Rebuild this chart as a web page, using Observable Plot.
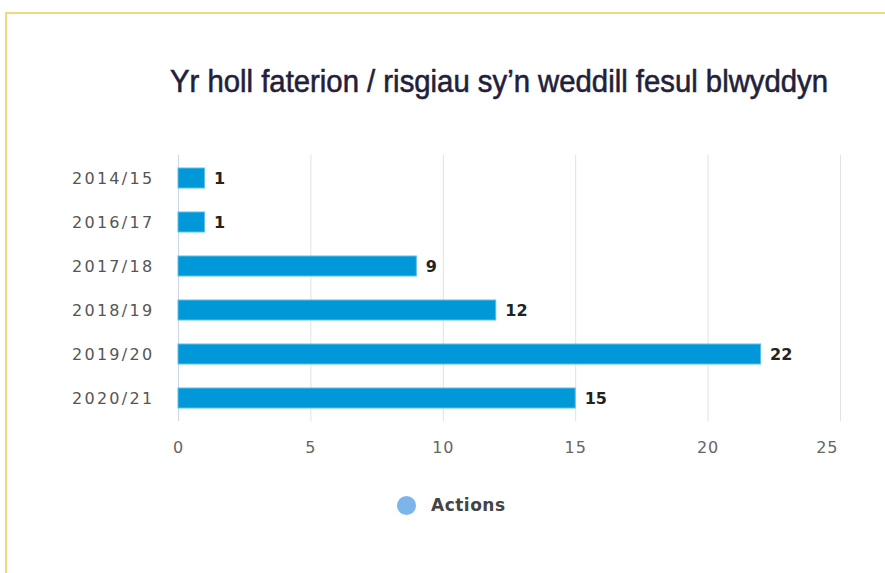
<!DOCTYPE html>
<html><head><meta charset="utf-8">
<script src="https://cdn.jsdelivr.net/npm/d3@7"></script>
<script src="https://cdn.jsdelivr.net/npm/@observablehq/plot@0.6"></script>
<style>
html,body{margin:0;padding:0;background:#fff;overflow:hidden;}
#wrap{position:relative;width:885px;height:573px;overflow:hidden;background:#fff;}
#frame{position:absolute;left:5px;top:12px;width:1000px;height:1000px;border:2px solid #f4d77c;box-sizing:border-box;}
#title{position:absolute;left:170px;top:65px;font-family:"Liberation Sans",Arial,sans-serif;font-size:32px;color:#231f3b;white-space:nowrap;transform-origin:0 0;line-height:1;-webkit-text-stroke:0.6px #231f3b;}
#chart{position:absolute;left:0;top:140px;}
#chart g[aria-label="y-axis tick label"] text{letter-spacing:2.3px;}
#chart g[aria-label="x-axis tick label"] text{letter-spacing:1px;}
#legend{position:absolute;left:397px;top:495px;display:flex;align-items:center;font-family:"DejaVu Sans",sans-serif;font-size:17px;font-weight:bold;color:#444;letter-spacing:0.5px;}
#legend .dot{width:19px;height:19px;border-radius:50%;background:#7cb5ec;margin-right:15px;}
</style></head>
<body>
<div id="wrap">
  <div id="frame"></div>
  <div id="title"></div>
  <div id="chart"></div>
  <div id="legend"><span class="dot"></span><span id="legendText"></span></div>
</div>
<script>
const titleText = "Yr holl faterion / risgiau sy’n weddill fesul blwyddyn";
const years = ["2014/15", "2016/17", "2017/18", "2018/19", "2019/20", "2020/21"];
const actions = [1, 1, 9, 12, 22, 15];
const xTicks = [0, 5, 10, 15, 20, 25];
const seriesName = "Actions";

const data = years.map((y, i) => ({year: y, value: actions[i]}));

const t = document.getElementById("title");
t.textContent = titleText;
const w = t.getBoundingClientRect().width;
t.style.transform = `scaleX(${658 / w})`;
document.getElementById("legendText").textContent = seriesName;

const chart = Plot.plot({
  width: 885,
  height: 330,
  marginLeft: 178,
  marginRight: 45,
  marginTop: 15,
  marginBottom: 49,
  style: {fontFamily: "DejaVu Sans, sans-serif", background: "transparent", overflow: "visible"},
  x: {domain: [0, 25], label: null},
  y: {domain: years, paddingInner: 0.55, paddingOuter: 0.275, label: null},
  marks: [
    Plot.gridX(xTicks.slice(1), {stroke: "#e2e2e2", strokeOpacity: 1}),
    Plot.ruleX([0], {stroke: "#ccd6eb"}),
    Plot.barX(data, {x: "value", y: "year", fill: "#0098d8", stroke: "#5cbdea", strokeWidth: 1}),
    Plot.text(data, {x: "value", y: "year", text: d => String(d.value), textAnchor: "start", dx: 9, fontSize: 16, fontWeight: "bold", fill: "#222"}),
    Plot.axisY({tickSize: 0, tickPadding: 24, fontSize: 16, fill: "#555", label: null}),
    Plot.axisX(xTicks.slice(0, -1), {tickSize: 0, tickPadding: 20, fontSize: 16, fill: "#666", label: null}),
    Plot.axisX(xTicks.slice(-1), {tickSize: 0, tickPadding: 20, fontSize: 16, fill: "#666", textAnchor: "end", dx: -2, label: null})
  ]
});
document.getElementById("chart").appendChild(chart);
</script>
</body></html>
